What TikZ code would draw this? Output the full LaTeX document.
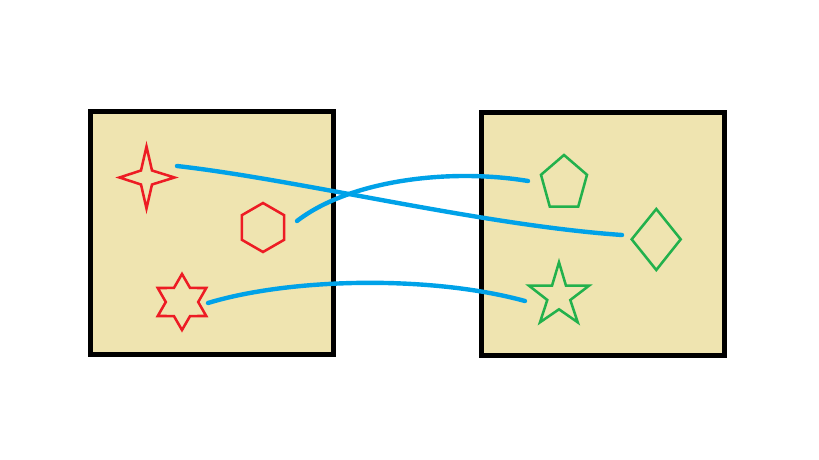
\documentclass[tikz,border=0pt]{standalone}
\definecolor{boxfill}{HTML}{EFE4B0}
\definecolor{shred}{HTML}{ED1C24}
\definecolor{shgreen}{HTML}{22B14C}
\definecolor{linkblue}{HTML}{00A2E8}
\begin{document}
\begin{tikzpicture}[x=0.75pt,y=-0.75pt,
  box/.style={draw=black,line width=3.5pt,fill=boxfill},
  redshape/.style={draw=shred,line width=1.9pt,line join=miter},
  greenshape/.style={draw=shgreen,line width=1.9pt,line join=miter},
  link/.style={draw=linkblue,line width=3.3pt,line cap=round}]
\useasboundingbox (0,0) rectangle (819,460);
% boxes
\draw[box] (90.5,111.7) rectangle (333.3,354.5);
\draw[box] (481.5,112.5) rectangle (724.2,355.2);
% centres
\coordinate (fourstar) at (146.5,177.5);
\coordinate (hexagon) at (263,227.5);
\coordinate (sixstar) at (182,302);
\coordinate (pentagon) at (564,183.6);
\coordinate (diamond) at (656.3,239.3);
\coordinate (fivestar) at (559,293);
% red shapes
\draw[redshape,shift={(fourstar)}] (0,-31) -- (5.5,-7) -- (28,0) -- (5.5,7) -- (0,31) -- (-5.5,7) -- (-27,0) -- (-5.5,-7) -- cycle;
\draw[redshape,shift={(hexagon)}] (90:24.5) -- (150:24.5) -- (210:24.5) -- (270:24.5) -- (330:24.5) -- (30:24.5) -- cycle;
\draw[redshape,shift={(sixstar)}] (90:28) -- (120:16.2) -- (150:28) -- (180:16.2) -- (210:28) -- (240:16.2) -- (270:28) -- (300:16.2) -- (330:28) -- (0:16.2) -- (30:28) -- (60:16.2) -- cycle;
% green shapes
\draw[greenshape,shift={(pentagon)}] (0,-28.6) -- (23,-8.8) -- (14.2,23.1) -- (-14.2,23.1) -- (-23,-8.8) -- cycle;
\draw[greenshape,shift={(diamond)}] (0,-30.3) -- (24.4,0) -- (0,30.7) -- (-24.6,0) -- cycle;
\draw[greenshape,shift={(fivestar)}] (0,-30.7) -- (7,-7.3) -- (30,-7.3) -- (11.3,7) -- (18.7,29.3) -- (0,16.3) -- (-19,29.3) -- (-11.7,7) -- (-30,-7.3) -- (-7,-7.3) -- cycle;
% connector ends
\coordinate (a1) at (177,166);
\coordinate (b1) at (622,235);
\coordinate (a2) at (297,221);
\coordinate (b2) at (528,181);
\coordinate (a3) at (208,303);
\coordinate (b3) at (525,301);
% connectors
\draw[link] (a1) .. controls (300,180) and (480,225) .. (b1);
\draw[link] (a2) .. controls (350,180) and (450,168) .. (b2);
\draw[link] (a3) .. controls (290,278) and (430,275) .. (b3);
\end{tikzpicture}
\end{document}
